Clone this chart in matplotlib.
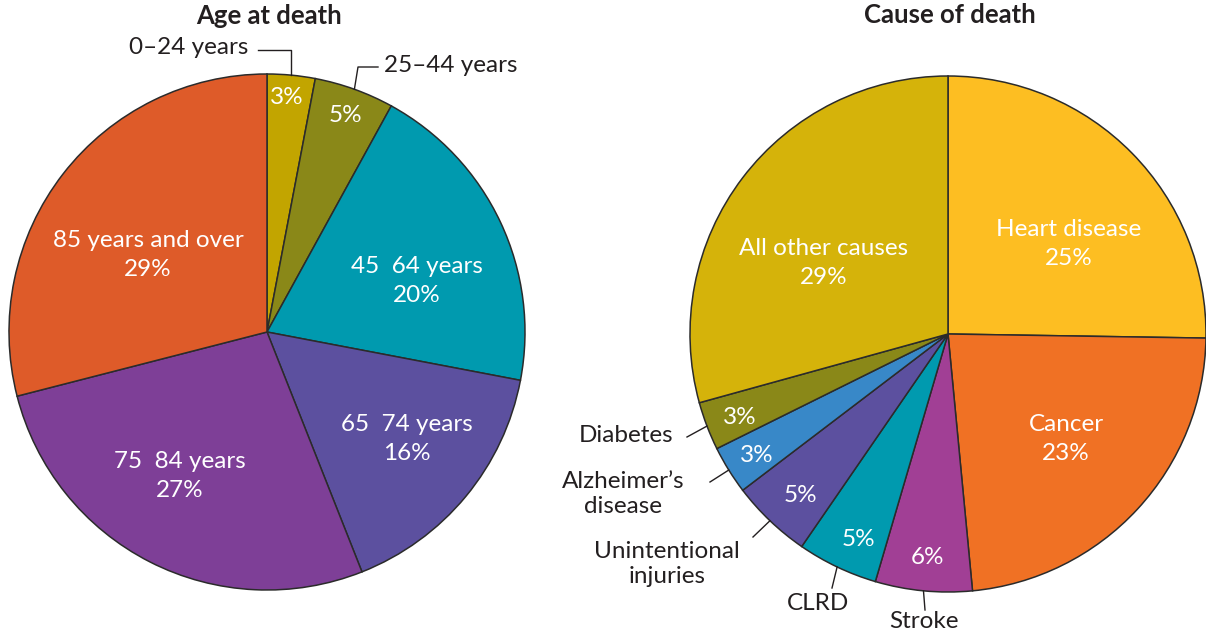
import numpy as np
import matplotlib
matplotlib.use('Agg')
import matplotlib.pyplot as plt

W, H = 1206, 634

# Age at death
age_labels = ['0–24 years', '25–44 years', '45  64 years', '65  74 years', '75  84 years', '85 years and over']
age_values = [3, 5, 20, 16, 27, 29]
age_colors = ['#C2A500', '#8A8818', '#009AAF', '#5C509F', '#7E3F97', '#DE5B29']

# Cause of death
cause_labels = ['Heart disease', 'Cancer', 'Stroke', 'CLRD', 'Unintentional\ninjuries',
                'Alzheimer’s\ndisease', 'Diabetes', 'All other causes']
cause_values = [25, 23, 6, 5, 5, 3, 3, 29]
cause_colors = ['#FDBE22', '#F07124', '#A13F95', '#009AAF', '#5C509F', '#3888C8', '#8A8818', '#D5B30A']

plt.rcParams['font.family'] = ['Lato', 'DejaVu Sans']
txt = '#231F20'
edge = '#2b2b2b'
fs = 17.5

fig = plt.figure(figsize=(W / 100, H / 100), dpi=100)
ax = fig.add_axes([0, 0, 1, 1])


def py(y):
    # pixel row (from top) -> data y
    return H - y


c1 = (267, py(332))
c2 = (948, py(334))
r = 258

w1, _ = ax.pie(age_values, colors=age_colors, startangle=90, counterclock=False,
               center=c1, radius=r, wedgeprops=dict(edgecolor=edge, linewidth=1.1))
w2, _ = ax.pie(cause_values, colors=cause_colors, startangle=90, counterclock=False,
               center=c2, radius=r, wedgeprops=dict(edgecolor=edge, linewidth=1.1))


def edge_point(w, center):
    a = np.deg2rad((w.theta1 + w.theta2) / 2)
    return center[0] + r * np.cos(a), center[1] + r * np.sin(a)


# titles
ax.text(269, py(16), 'Age at death', ha='center', va='center', fontsize=18.5, fontweight='bold', color=txt)
ax.text(950, py(15), 'Cause of death', ha='center', va='center', fontsize=18.5, fontweight='bold', color=txt)

# inside labels, left pie
inside_left = [(287, 98, '3%'), (345, 116, '5%'),
               (417, 281, age_labels[2] + '\n20%'),
               (407, 439, age_labels[3] + '\n16%'),
               (180, 476, age_labels[4] + '\n27%'),
               (148, 255, age_labels[5] + '\n29%')]
for x, y, s in inside_left:
    ax.text(x, py(y), s, ha='center', va='center', fontsize=fs, color='white', linespacing=1.5)

# outside labels left pie with leader lines
ex, ey = edge_point(w1[0], c1)
ax.plot([ex, ex, 258], [ey, py(50), py(50)], color=txt, lw=1)
ax.text(248, py(47), age_labels[0], ha='right', va='center', fontsize=fs, color=txt)
ex, ey = edge_point(w1[1], c1)
ax.plot([ex, 358, 378], [ey, py(67), py(67)], color=txt, lw=1)
ax.text(384, py(66), age_labels[1], ha='left', va='center', fontsize=fs, color=txt)

# inside labels, right pie
inside_right = [(1069, 244, cause_labels[0] + '\n25%'),
                (1066, 439, cause_labels[1] + '\n23%'),
                (928, 557, '6%'), (858, 540, '5%'), (800, 496, '5%'),
                (757, 456, '3%'), (740, 417, '3%'),
                (824, 263, cause_labels[7] + '\n29%')]
for x, y, s in inside_right:
    ax.text(x, py(y), s, ha='center', va='center', fontsize=fs, color='white', linespacing=1.5)

# outside labels right pie
outside = [(2, (925, 610), (924, 622), 'center'),
           (3, (832, 588), (818, 604), 'center'),
           (4, (753, 537), (667, 564), 'center'),
           (5, (710, 482), (623, 494), 'center'),
           (6, (687, 437), (673, 436), 'right')]
for i, (lx, ly), (tx, ty), ha in outside:
    ex, ey = edge_point(w2[i], c2)
    ax.plot([ex, lx], [ey, py(ly)], color=txt, lw=1)
    ax.text(tx, py(ty), cause_labels[i], ha=ha, va='center', fontsize=fs, color=txt, linespacing=1.2)

ax.set_xlim(0, W)
ax.set_ylim(0, H)
ax.set_aspect('equal')
ax.axis('off')
fig.savefig('out.png', dpi=100, facecolor='white')
